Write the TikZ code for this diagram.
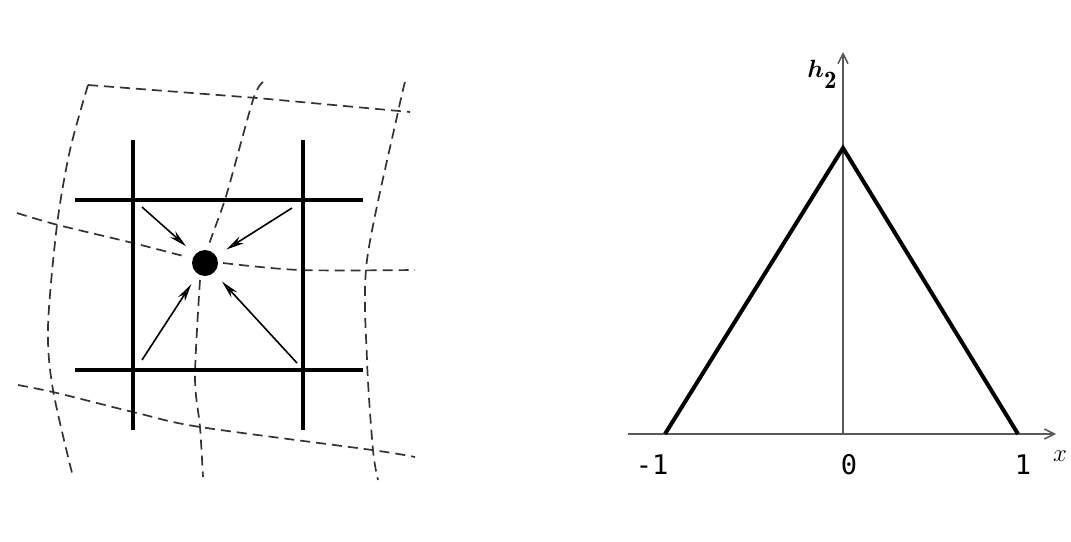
\documentclass[tikz,border=0pt]{standalone}
\usepackage{bm}
\usepackage{fontspec}
\newfontfamily\labelfont{DejaVu Sans Mono}
\usetikzlibrary{arrows.meta}

\tikzset{
  gridline/.style={line width=4pt},
  dashline/.style={line width=1.7pt,dash pattern=on 10pt off 6pt,black!80},
  pull/.style={-{Stealth[open,length=18pt,width=8pt]},line width=1.6pt,shorten >=12pt},
  axis/.style={-{Straight Barb[length=10pt,width=10pt]},line width=1.5pt,black!65},
  hat/.style={line width=4pt,line join=miter},
  ticklabel/.style={font=\labelfont\fontsize{27}{29}\selectfont}
}

\begin{document}
\begin{tikzpicture}[x=1pt,y=-1pt]
  \useasboundingbox[fill=white] (0,0) rectangle (1071,541);

  % deformed mesh
  \draw[dashline] plot[smooth] coordinates {(88,85) (70,150) (57,225) (48,327) (53,390) (73,477)};
  \draw[dashline] (88,85) -- (257,98) -- (410,112);
  \draw[dashline] plot[smooth] coordinates {(405,82) (398,112) (367,260) (367,360) (373,450) (378,480)};
  \draw[dashline] plot[smooth] coordinates {(263,82) (253,100) (227,193) (213,233) (208,247)};
  \draw[dashline] plot[smooth] coordinates {(200,280) (195,377) (200,427) (203,477)};
  \draw[dashline] plot[smooth] coordinates {(17,213) (58,225) (133,243) (187,257)};
  \draw[dashline] plot[smooth] coordinates {(223,263) (300,270) (415,270)};
  \draw[dashline] plot[smooth] coordinates {(18,385) (57,393) (137,413) (200,427) (372,450) (415,457)};

  % regular grid
  \draw[gridline] (133,140) -- (133,430);
  \draw[gridline] (303,140) -- (303,430);
  \draw[gridline] (75,200) -- (363,200);
  \draw[gridline] (75,370) -- (363,370);

  \node[circle,fill,minimum size=26pt,inner sep=0pt] (dot) at (205,263) {};
  \coordinate (nw) at (142,207);
  \coordinate (ne) at (292,208);
  \coordinate (sw) at (142,360);
  \coordinate (se) at (297,363);
  \draw[pull] (nw) -- (dot);
  \draw[pull] (ne) -- (dot);
  \draw[pull] (sw) -- (dot);
  \draw[pull] (se) -- (dot);

  % hat function
  \coordinate (xl) at (628,434);
  \coordinate (xr) at (1056,434);
  \coordinate (yb) at (843,434);
  \coordinate (yt) at (843,52);
  \draw[axis] (xl) -- (xr);
  \draw[axis] (yb) -- (yt);
  \coordinate (left) at (665,434);
  \coordinate (top) at (843,148);
  \coordinate (right) at (1018,434);
  \draw[hat] (left) -- (top) -- (right);
  \node[ticklabel] (mone) at (652,465) {-1};
  \node[ticklabel] (zero) at (849,465) {0};
  \node[ticklabel] (one) at (1023,465) {1};
  \node[font=\fontsize{28}{30}\selectfont] (xlab) at (1060,456) {$x$};
  \node[font=\fontsize{25}{27}\selectfont] (hlab) at (822,74) {$\bm{h}\raisebox{-11pt}{$\mathbf{2}$}$};
\end{tikzpicture}
\end{document}
